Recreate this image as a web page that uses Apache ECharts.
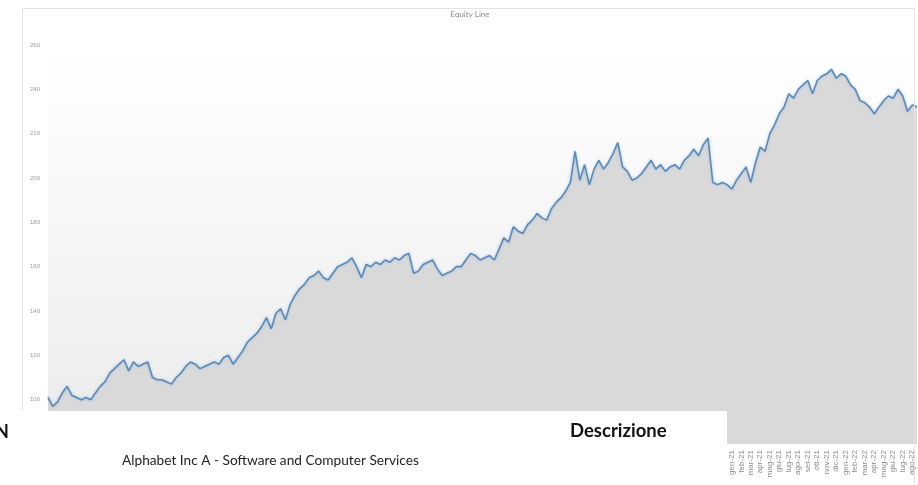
<!DOCTYPE html>
<html>
<head>
<meta charset="utf-8">
<script src="https://cdn.jsdelivr.net/npm/echarts@6/dist/echarts.min.js"></script>
<style>
html,body{margin:0;padding:0;background:#fff;}
#c{width:918px;height:485px;}
</style>
</head>
<body>
<div id="c"></div>
<script>
// tick labels (month names, Italian) and period
const monthNames = ['gen','feb','mar','apr','mag','giu','lug','ago','set','ott','nov','dic'];
const startYear = 2015;
const yTicks = [80, 260, 20]; // min, max, step

// equity values (two readings per month)
const equity = [
101,97,99,103,106,102,101,100,101,100,
103,106,108,112,114,116,118,113,117,115,
116,117,110,109,109,108,107,110,112,115,
117,116,114,115,116,117,116,119,120,116,
119,122,126,128,130,133,137,132,139,141,
136,143,147,150,152,155,156,158,155,154,
157,160,161,162,164,160,155,161,160,162,
161,163,162,164,163,165,166,157,158,161,
162,163,159,156,157,158,160,160,163,166,
165,163,164,165,163,168,173,171,178,176,
175,179,181,184,182,181,186,189,191,194,
198,212,199,206,197,204,208,204,207,211,
216,205,203,199,200,202,205,208,204,206,
203,205,206,204,208,210,213,210,215,218,
198,197,198,197,195,199,202,205,198,207,
214,212,220,224,229,232,238,236,240,242,
244,238,244,246,247,249,245,247,246,242,
240,235,234,232,229,232,235,237,236,240,
237,230,233,232
];

const categories = [];
for (let i = 0; i < equity.length; i++) {
  const m = Math.floor(i / 2);
  const y = startYear + Math.floor(m / 12);
  categories.push(monthNames[m % 12] + '-' + String(y).slice(2) + (i % 2 ? ' ' : ''));
}

const chart = echarts.init(document.getElementById('c'));
chart.setOption({
  animation: false,
  backgroundColor: '#ffffff',
  title: {
    text: 'Equity Line', left: 465, top: 5, textAlign: 'center',
    textStyle: {fontSize: 8, fontWeight: 'normal', color: '#8a8a8a', fontFamily: 'Lato'}
  },
  grid: {
    left: 48, right: 1, top: 45, bottom: 41, show: true, borderWidth: 0,
    backgroundColor: new echarts.graphic.LinearGradient(0, 0, 0, 1, [
      {offset: 0, color: '#ffffff'}, {offset: 1, color: '#ebebeb'}
    ])
  },
  xAxis: {
    type: 'category', data: categories, boundaryGap: false,
    axisLine: {show: false}, axisTick: {show: false},
    axisLabel: {
      interval: 1, rotate: 90, fontSize: 8, color: '#8a8a8a', margin: 6,
      fontFamily: 'Liberation Sans', formatter: v => v.trim()
    },
    splitLine: {show: false}
  },
  yAxis: {
    type: 'value', min: yTicks[0], max: yTicks[1], interval: yTicks[2],
    axisLine: {show: false}, axisTick: {show: false},
    axisLabel: {fontSize: 6, color: '#9a9a9a', margin: 8, fontFamily: 'Liberation Sans'},
    splitLine: {show: false}
  },
  series: [{
    type: 'line', data: equity, symbol: 'none', smooth: false,
    lineStyle: {color: '#5d89b2', width: 1.6, shadowColor: 'rgba(140,185,230,0.8)', shadowBlur: 3},
    areaStyle: {color: '#d9d9d9', opacity: 1}
  }],
  graphic: [
    {type: 'rect', z: 50, silent: true, shape: {x: 22.5, y: 8.5, width: 892, height: 480},
     style: {fill: 'none', stroke: '#e4e4e4', lineWidth: 1}},
    {type: 'rect', z: 100, shape: {x: 0, y: 411, width: 727, height: 74}, style: {fill: '#ffffff'}},
    {type: 'text', z: 101, style: {x: -5, y: 423, text: 'N', fontSize: 18, fontWeight: 'bold', fill: '#111', fontFamily: 'Lato'}},
    {type: 'text', z: 101, style: {x: 570, y: 422, text: 'Descrizione', fontSize: 18.5, fontWeight: 'bold', fill: '#111', fontFamily: 'Lato'}},
    {type: 'text', z: 101, style: {x: 122, y: 454, text: 'Alphabet Inc A - Software and Computer Services', fontSize: 13.7, fill: '#222', fontFamily: 'Lato'}}
  ]
});
</script>
</body>
</html>
